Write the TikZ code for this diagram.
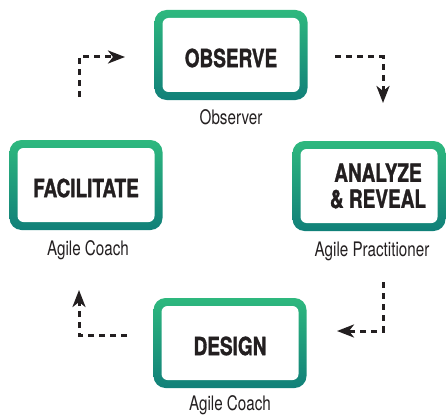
\documentclass[tikz,border=0pt]{standalone}
\usepackage{fontspec}
\setmainfont{TeX Gyre Heros}[FakeStretch=0.76, BoldFeatures={FakeBold=1.2}]
\usetikzlibrary{arrows.meta,positioning}
\definecolor{stagetop}{RGB}{46,184,126}
\definecolor{stagebot}{RGB}{17,128,121}
\definecolor{ink}{RGB}{35,31,32}

\begin{document}
\begin{tikzpicture}[x=1pt,y=-1pt,
  stage/.style={rounded corners=12pt, top color=stagetop, bottom color=stagebot,
    minimum width=153pt, minimum height=90pt, inner sep=0pt,
    path picture={\fill[white,rounded corners=6pt]
      ([shift={(8pt,-8pt)}]path picture bounding box.north west) rectangle
      ([shift={(-8pt,8pt)}]path picture bounding box.south east);}},
  title/.style={text=ink, font=\fontsize{25}{26}\selectfont\bfseries, align=center},
  role/.style={text=ink, font=\fontsize{20}{22}\selectfont},
  flow/.style={draw=ink, line width=3pt, dash pattern=on 6pt off 5pt,
    -{Stealth[length=17pt,width=13pt,inset=5pt]}}]
\useasboundingbox (0,0) rectangle (446,417);

% stages
\node[stage] (observe) at (231,55) {};
\node[stage] (facilitate) at (86,185) {};
\node[stage] (analyze) at (369,186) {};
\node[stage] (design) at (230,343) {};

\node[title] (observe-t) at ([yshift=-3pt]observe.center) {OBSERVE};
\node[title] (facilitate-t) at ([yshift=-3pt]facilitate.center) {FACILITATE};
\node[title] (analyze-t) at ([xshift=9pt]analyze.center) {ANALYZE\\\& REVEAL};
\node[title] (design-t) at ([yshift=-3pt]design.center) {DESIGN};

% roles
\node[role] (observer) at ([yshift=-17pt]observe.south) {Observer};
\node[role] (coach-a) at ([xshift=2pt,yshift=-20pt]facilitate.south) {Agile Coach};
\node[role] (practitioner) at ([xshift=3pt,yshift=-20pt]analyze.south) {Agile Practitioner};
\node[role] (coach-b) at ([yshift=-17pt]design.south) {Agile Coach};

% cycle
\coordinate (tl-a) at (79,97);   \coordinate (tl-b) at (125,57);
\coordinate (tr-a) at (335,57);  \coordinate (tr-b) at (383,103);
\coordinate (br-a) at (383,282); \coordinate (br-b) at (337,331);
\coordinate (bl-a) at (127,335); \coordinate (bl-b) at (79,290);
\draw[flow] (tl-a) |- (tl-b);
\draw[flow] (tr-a) -| (tr-b);
\draw[flow] (br-a) |- (br-b);
\draw[flow] (bl-a) -| (bl-b);
\end{tikzpicture}
\end{document}
